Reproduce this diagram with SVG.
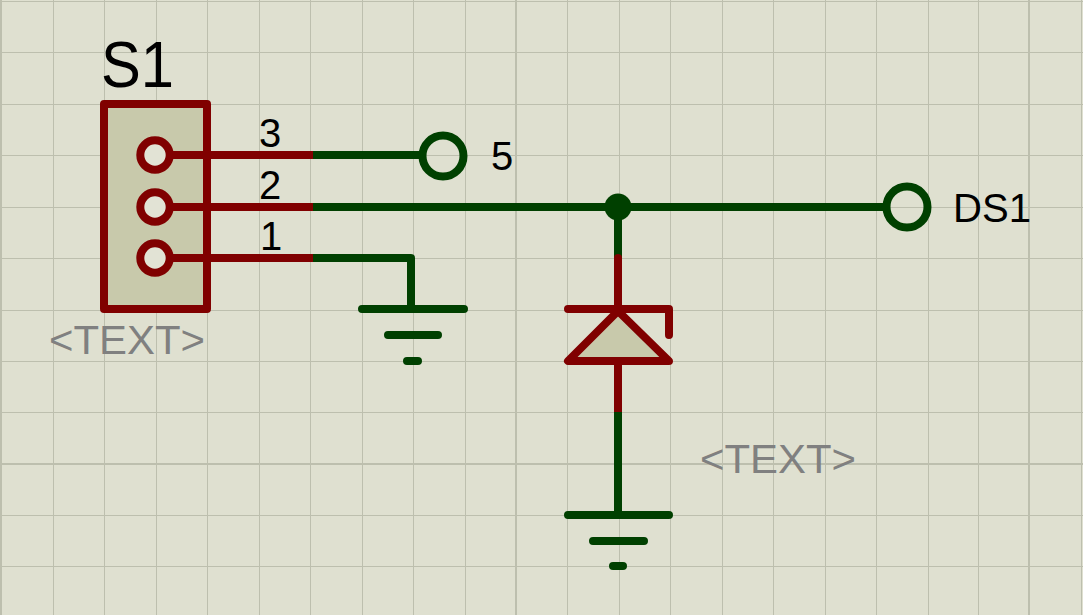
<svg xmlns="http://www.w3.org/2000/svg" width="1083" height="615" viewBox="0 0 1083 615">
<style>
.grid{stroke:#bdbfae;stroke-width:1;fill:none}
.major{stroke:#bdbfae;stroke-width:2;fill:none}
.red{stroke:#800000;stroke-width:8;fill:none;stroke-linecap:round;stroke-linejoin:round}
.green{stroke:#004000;stroke-width:8;fill:none;stroke-linecap:round;stroke-linejoin:round}
.body{fill:#c8c9ab}
.pin{fill:#e2e3d5;stroke:#800000;stroke-width:8}
.term{fill:none;stroke:#004000;stroke-width:8}
text{font-family:"Liberation Sans",Arial,sans-serif;fill:#000}
.ghost{fill:#808080;font-size:40px}
.num{font-size:40px}
.lbl{font-size:40px}
</style>
<rect width="1083" height="615" fill="#dfe0d0"/>
<g id="grid">
<path class="grid" d="M53.5 0V615M104.5 0V615M156.5 0V615M207.5 0V615M259.5 0V615M310.5 0V615M362.5 0V615M413.5 0V615M465.5 0V615M567.5 0V615M619.5 0V615M670.5 0V615M722.5 0V615M773.5 0V615M825.5 0V615M876.5 0V615M928.5 0V615M978.5 0V615M1081.5 0V615M0 1.5H1083M0 52.5H1083M0 104.5H1083M0 155.5H1083M0 207.5H1083M0 258.5H1083M0 310.5H1083M0 361.5H1083M0 412.5H1083M0 515.5H1083M0 566.5H1083"/>
<path class="major" d="M1 0V615M516 0V615M1029 0V615M0 464H1083"/>
</g>
<g id="connectors">
<path class="green" style="stroke-linecap:butt" d="M312 155H425M312 207H890M312 258H411V309"/>
<path class="green" style="stroke-linecap:butt" d="M618 207V260M618 412V515"/>
</g>
<g id="S1">
<rect class="body" x="104" y="104" width="103" height="205"/>
<path class="red" style="stroke-linecap:butt" d="M170 155H313M170 207H313M170 258H313"/>
<rect x="104" y="104" width="103" height="205" class="red"/>
<circle class="pin" cx="155" cy="155" r="14.7"/>
<circle class="pin" cx="155" cy="207" r="14.7"/>
<circle class="pin" cx="155" cy="258" r="14.7"/>
<text x="101" y="87" style="font-size:64px" textLength="73" lengthAdjust="spacingAndGlyphs">S1</text>
<text x="259" y="147" class="num">3</text>
<text x="259" y="199" class="num">2</text>
<text x="260" y="250" class="num">1</text>
<text x="49" y="354" class="ghost" textLength="156" lengthAdjust="spacingAndGlyphs">&lt;TEXT&gt;</text>
</g>
<g id="terminal-5">
<circle class="term" cx="443" cy="156" r="20.5"/>
<text x="491" y="170" class="lbl">5</text>
</g>
<g id="terminal-DS1">
<circle class="term" cx="907" cy="207" r="20.5"/>
<text x="953" y="222" class="lbl" textLength="78" lengthAdjust="spacingAndGlyphs">DS1</text>
</g>
<g id="junction">
<circle cx="618" cy="207" r="13.5" fill="#004000"/>
</g>
<g id="gnd-1">
<path class="green" d="M362 309H464M388 335H438M407 361H418"/>
</g>
<g id="zener">
<path class="red" d="M618 258V309"/>
<path class="red" style="stroke-linecap:butt" d="M618 361V412"/>
<path class="red" style="fill:#c8c9ab" d="M618 311L568 361H669Z"/>
<path class="red" d="M568 309H669V335"/>
<text x="700" y="473" class="ghost" textLength="156" lengthAdjust="spacingAndGlyphs">&lt;TEXT&gt;</text>
</g>
<g id="gnd-2">
<path class="green" d="M568 515H669M593 541H644M613 566H623"/>
</g>
</svg>
